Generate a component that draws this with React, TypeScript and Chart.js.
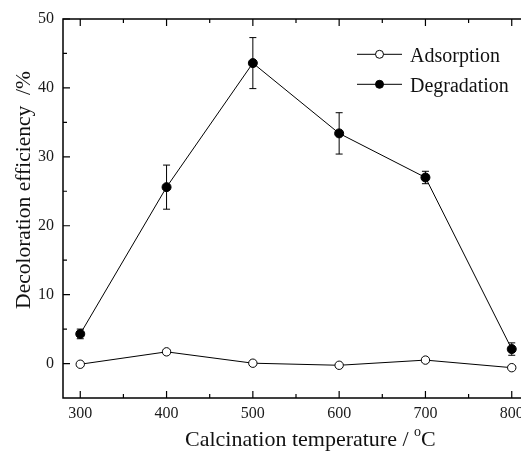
import { useEffect, useRef } from 'react';
import { Chart, registerables } from 'chart.js';
Chart.register(...registerables);

const temperatures = [300, 400, 500, 600, 700, 800];
const adsorption = [-0.1, 1.7, 0.05, -0.25, 0.5, -0.6];
const adsorptionErr = [0.25, 0.3, 0.2, 0.25, 0.3, 0.2];
const degradation = [4.3, 25.6, 43.6, 33.4, 27.0, 2.1];
const degradationErr = [0.7, 3.2, 3.7, 3.0, 0.9, 0.9];
const xTicks = [300, 400, 500, 600, 700, 800];
const xMinorTicks = [350, 450, 550, 650, 750];
const yTicks = [0, 10, 20, 30, 40, 50];
const yMinorTicks = [5, 15, 25, 35, 45];
const seriesNames = ['Adsorption', 'Degradation'];
const xTitle = 'Calcination temperature / ';
const xTitleSup = 'o';
const xTitleEnd = 'C';
const yTitle = 'Decoloration efficiency  /%';

const FONT = '"Liberation Serif", "Times New Roman", serif';

const errorBars = {
  id: 'errorBars',
  beforeDatasetsDraw(chart: any) {
    const ctx = chart.ctx;
    const xs = chart.scales.x;
    const ys = chart.scales.y;
    const sets = [
      { v: adsorption, e: adsorptionErr },
      { v: degradation, e: degradationErr },
    ];
    ctx.save();
    ctx.strokeStyle = '#000';
    ctx.lineWidth = 1;
    sets.forEach((s) => {
      temperatures.forEach((t, i) => {
        const x = xs.getPixelForValue(t);
        const y1 = ys.getPixelForValue(s.v[i] + s.e[i]);
        const y2 = ys.getPixelForValue(s.v[i] - s.e[i]);
        ctx.beginPath();
        ctx.moveTo(x, y1);
        ctx.lineTo(x, y2);
        ctx.moveTo(x - 3.5, y1);
        ctx.lineTo(x + 3.5, y1);
        ctx.moveTo(x - 3.5, y2);
        ctx.lineTo(x + 3.5, y2);
        ctx.stroke();
      });
    });
    ctx.restore();
  },
};

const frameAndText = {
  id: 'frameAndText',
  afterDraw(chart: any) {
    const ctx = chart.ctx;
    const { left, right, top, bottom } = chart.chartArea;
    const xs = chart.scales.x;
    const ys = chart.scales.y;
    ctx.save();
    ctx.strokeStyle = '#000';
    ctx.lineWidth = 1.5;
    ctx.strokeRect(left, top, right - left, bottom - top);
    ctx.lineWidth = 1.2;
    ctx.beginPath();
    const major = 7;
    const minor = 4;
    xTicks.forEach((v) => {
      const x = xs.getPixelForValue(v);
      ctx.moveTo(x, bottom); ctx.lineTo(x, bottom - major);
      ctx.moveTo(x, top); ctx.lineTo(x, top + major);
    });
    xMinorTicks.forEach((v) => {
      const x = xs.getPixelForValue(v);
      ctx.moveTo(x, bottom); ctx.lineTo(x, bottom - minor);
      ctx.moveTo(x, top); ctx.lineTo(x, top + minor);
    });
    yTicks.forEach((v) => {
      const y = ys.getPixelForValue(v);
      ctx.moveTo(left, y); ctx.lineTo(left + major, y);
      ctx.moveTo(right, y); ctx.lineTo(right - major, y);
    });
    yMinorTicks.forEach((v) => {
      const y = ys.getPixelForValue(v);
      ctx.moveTo(left, y); ctx.lineTo(left + minor, y);
      ctx.moveTo(right, y); ctx.lineTo(right - minor, y);
    });
    ctx.stroke();

    // legend
    const legendRows = [
      { name: seriesNames[0], y: 54.3, fill: '#fff', base: 61.5 },
      { name: seriesNames[1], y: 84.3, fill: '#000', base: 91.5 },
    ];
    legendRows.forEach((r) => {
      ctx.lineWidth = 1;
      ctx.beginPath();
      ctx.moveTo(357, r.y);
      ctx.lineTo(402, r.y);
      ctx.stroke();
      ctx.beginPath();
      ctx.arc(379.5, r.y, 4, 0, Math.PI * 2);
      ctx.fillStyle = r.fill;
      ctx.fill();
      ctx.stroke();
      ctx.fillStyle = '#111';
      ctx.font = `20px ${FONT}`;
      ctx.textAlign = 'left';
      ctx.textBaseline = 'alphabetic';
      ctx.fillText(r.name, 410, r.base);
    });

    // y title
    ctx.save();
    ctx.translate(30, 190);
    ctx.rotate(-Math.PI / 2);
    ctx.font = `21.5px ${FONT}`;
    ctx.fillStyle = '#111';
    ctx.textAlign = 'center';
    ctx.textBaseline = 'alphabetic';
    ctx.fillText(yTitle, 0, 0);
    ctx.restore();

    // x title
    ctx.font = `22px ${FONT}`;
    ctx.fillStyle = '#111';
    ctx.textAlign = 'left';
    ctx.textBaseline = 'alphabetic';
    let x = 185;
    const base = 446;
    ctx.fillText(xTitle, x, base);
    x += ctx.measureText(xTitle).width;
    ctx.font = `14px ${FONT}`;
    ctx.fillText(xTitleSup, x, base - 10);
    x += ctx.measureText(xTitleSup).width;
    ctx.font = `22px ${FONT}`;
    ctx.fillText(xTitleEnd, x, base);
    ctx.restore();
  },
};

export default function App() {
  const ref = useRef<HTMLCanvasElement>(null);
  useEffect(() => {
    if (!ref.current) return;
    const chart = new Chart(ref.current, {
      type: 'line',
      data: {
        datasets: [
          {
            label: seriesNames[0],
            data: temperatures.map((t, i) => ({ x: t, y: adsorption[i] })),
            borderColor: '#000',
            borderWidth: 1,
            pointRadius: 4.2,
            pointBackgroundColor: '#fff',
            pointBorderColor: '#000',
            pointBorderWidth: 1,
            tension: 0,
          },
          {
            label: seriesNames[1],
            data: temperatures.map((t, i) => ({ x: t, y: degradation[i] })),
            borderColor: '#000',
            borderWidth: 1,
            pointRadius: 4.5,
            pointBackgroundColor: '#000',
            pointBorderColor: '#000',
            pointBorderWidth: 1,
            tension: 0,
          },
        ],
      },
      options: {
        responsive: false,
        animation: false,
        devicePixelRatio: 1,
        layout: { padding: { top: 19, right: 11, left: 0, bottom: 0 } },
        plugins: { legend: { display: false }, tooltip: { enabled: false } },
        scales: {
          x: {
            type: 'linear',
            min: 280,
            max: 820,
            grid: { display: false, drawTicks: false },
            border: { display: false },
            afterBuildTicks: (s: any) => { s.ticks = xTicks.map((v) => ({ value: v })); },
            afterFit: (s: any) => { s.height = 54; },
            ticks: { padding: 6, color: '#1a1a1a', font: { family: FONT, size: 16 }, maxRotation: 0 },
          },
          y: {
            type: 'linear',
            min: -5,
            max: 50,
            grid: { display: false, drawTicks: false },
            border: { display: false },
            afterBuildTicks: (s: any) => { s.ticks = yTicks.map((v) => ({ value: v })); },
            afterFit: (s: any) => { s.width = 63; },
            ticks: { padding: 9, color: '#1a1a1a', font: { family: FONT, size: 16 } },
          },
        },
      },
      plugins: [errorBars, frameAndText],
    } as any);
    return () => chart.destroy();
  }, []);
  return (
    <div style={{ position: 'fixed', left: 0, top: 0, width: 521, height: 452, overflow: 'hidden', background: '#fff' }}>
      <canvas ref={ref} width={540} height={452} style={{ display: 'block', width: 540, height: 452 }} />
    </div>
  );
}
